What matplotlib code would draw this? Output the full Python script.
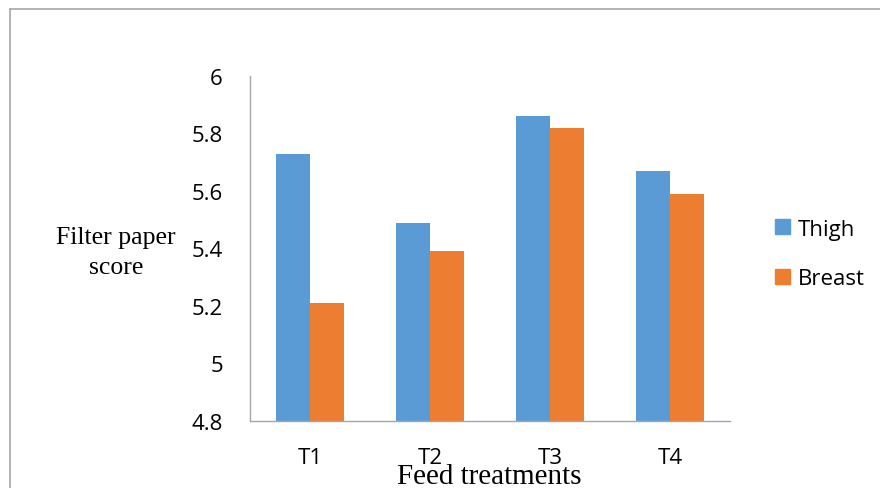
import matplotlib
matplotlib.use("Agg")
import matplotlib.pyplot as plt
from matplotlib.lines import Line2D
from matplotlib.patches import Patch
import numpy as np

categories = ["T1", "T2", "T3", "T4"]
thigh = [5.73, 5.49, 5.86, 5.67]
breast = [5.21, 5.39, 5.82, 5.59]
yticks = [4.8, 5, 5.2, 5.4, 5.6, 5.8, 6]
ytick_labels = ["4.8", "5", "5.2", "5.4", "5.6", "5.8", "6"]

W, H = 880, 489
fig = plt.figure(figsize=(W/100, H/100), dpi=100)
ax = fig.add_axes([250/W, 1-422/H, 480/W, 345/H])

blue = "#5B9BD5"
orange = "#ED7D31"
grey = "#A6A6A6"
x = np.arange(len(categories))
bw = 0.283
ax.bar(x - bw/2, thigh, bw, color=blue, label="Thigh")
ax.bar(x + bw/2, breast, bw, color=orange, label="Breast")
ax.set_xlim(-0.5, 3.5)
ax.set_ylim(4.8, 6.0)
ax.set_yticks(yticks)
ax.set_yticklabels(ytick_labels)
ax.set_xticks(x)
ax.set_xticklabels(categories)
for s in ["top", "right"]:
    ax.spines[s].set_visible(False)
for s in ["left", "bottom"]:
    ax.spines[s].set_color(grey)
    ax.spines[s].set_linewidth(1.0)
ax.tick_params(axis="both", length=0, labelsize=16, colors="black")
ax.tick_params(axis="y", pad=19.5)
ax.tick_params(axis="x", pad=18.5)
for lab in ax.get_xticklabels() + ax.get_yticklabels():
    lab.set_fontfamily("Open Sans")

fig.text(116/W, 1-253/H, "Filter paper\nscore", ha="center", va="center",
         fontsize=18.5, family="Liberation Serif", linespacing=1.42)
fig.text(489/W, 1-477/H, "Feed treatments", ha="center", va="center",
         fontsize=21, family="Liberation Serif")

handles = [Patch(color=blue, label="Thigh"), Patch(color=orange, label="Breast")]
fig.legend(handles=handles, loc="center left", bbox_to_anchor=(771/W, 1-255/H),
           frameon=False, prop={"family": "Open Sans", "size": 16},
           handlelength=0.65, handleheight=0.65, handletextpad=0.35, labelspacing=1.3,
           borderaxespad=0, borderpad=0.2)

fig.add_artist(Line2D([10/W, 10/W], [0, 1-10/H], transform=fig.transFigure, color=grey, lw=1.2))
fig.add_artist(Line2D([10/W, 1], [1-10/H, 1-10/H], transform=fig.transFigure, color=grey, lw=1.2))

fig.savefig("out.png", dpi=100)
